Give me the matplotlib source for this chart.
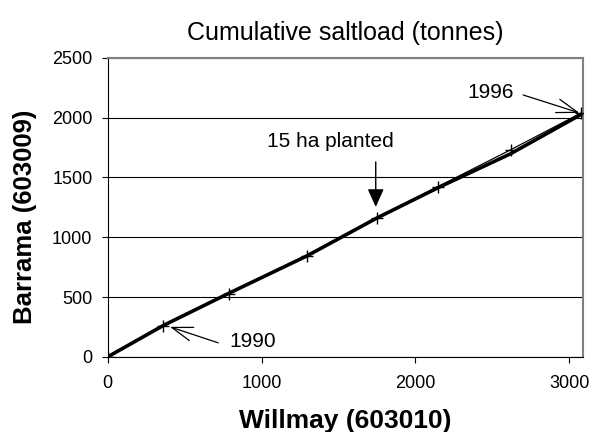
import matplotlib
matplotlib.use('Agg')
from matplotlib import pyplot as plt

plt.rcParams['font.family'] = ['Liberation Sans', 'DejaVu Sans']

# cumulative saltload, tonnes
willmay = [0, 361, 785, 1296, 1748, 2148, 2618, 3074]
barrama = [0, 259, 527, 845, 1160, 1424, 1731, 2037]
# thick trend line
trend_x = [0, 361, 785, 1296, 1748, 2148, 2618, 3074]
trend_y = [0, 262, 530, 845, 1160, 1415, 1698, 2025]

fig = plt.figure(figsize=(5.92, 4.32), dpi=100)
ax = fig.add_axes([0.182, 0.174, 0.803, 0.692])

ax.plot(trend_x, trend_y, color='k', lw=2.6, zorder=3)
ax.plot(willmay, barrama, color='k', lw=0.9, marker='+', ms=8, mew=1.0, zorder=4)

ax.set_xlim(0, 3090)
ax.set_ylim(0, 2500)
ax.set_xticks([0, 1000, 2000, 3000])
ax.set_yticks([0, 500, 1000, 1500, 2000, 2500])
ax.yaxis.grid(True, color='k', lw=0.8)
ax.set_axisbelow(True)
ax.tick_params(direction='out', length=4, width=0.8, labelsize=13)
ax.tick_params(axis='x', pad=9)
ax.tick_params(axis='y', pad=7)
for s in ['top', 'right']:
    ax.spines[s].set_color('#808080')
    ax.spines[s].set_linewidth(1.5)

ax.set_title('Cumulative saltload (tonnes)', fontsize=18, pad=13)
ax.set_xlabel('Willmay (603010)', fontsize=19, fontweight='bold', labelpad=12)
ax.set_ylabel('Barrama (603009)', fontsize=18.5, fontweight='bold')
ax.yaxis.set_label_coords(-0.148, 0.47)

arrow_open = dict(arrowstyle='->,head_width=0.5,head_length=1.5',
                  color='k', lw=0.9, shrinkA=0, shrinkB=0)

ax.annotate('15 ha planted', xy=(1742, 1254), xytext=(1448, 1798), fontsize=15,
            ha='center', va='center')
ax.annotate('', xy=(1742, 1254), xytext=(1742, 1630),
            arrowprops=dict(arrowstyle='-|>,head_width=0.5,head_length=1.1',
                            color='k', lw=1.0, shrinkA=0, shrinkB=0))
ax.annotate('1996', xy=(3066, 2040), xytext=(2492, 2207), fontsize=15,
            ha='center', va='center')
ax.annotate('', xy=(3066, 2040), xytext=(2700, 2190), arrowprops=arrow_open)
ax.annotate('1990', xy=(404, 251), xytext=(939, 125), fontsize=15,
            ha='center', va='center')
ax.annotate('', xy=(404, 251), xytext=(718, 117), arrowprops=arrow_open)

fig.savefig('out.png', dpi=100)
